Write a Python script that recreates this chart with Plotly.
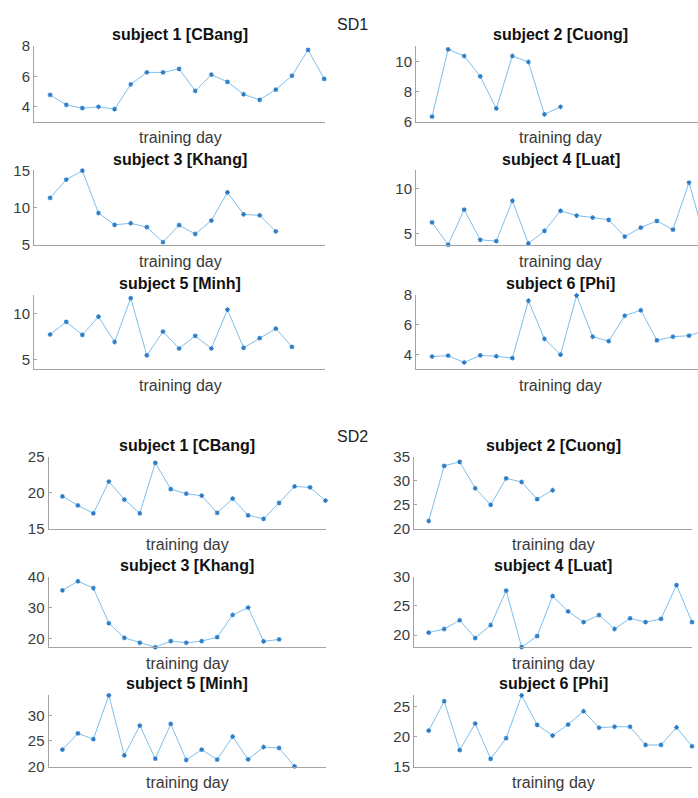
import plotly.graph_objects as go

W, H = 698, 798

subjects = ["subject 1 [CBang]", "subject 2 [Cuong]", "subject 3 [Khang]",
            "subject 4 [Luat]", "subject 5 [Minh]", "subject 6 [Phi]"]

# SD1 per subject (one value per training day)
sd1_cbang = [4.77, 4.11, 3.89, 3.98, 3.82, 5.47, 6.26, 6.26, 6.50, 5.03, 6.11, 5.63, 4.81, 4.44, 5.12, 6.04, 7.75, 5.83]
sd1_cuong = [6.33, 10.79, 10.35, 9.00, 6.87, 10.35, 9.95, 6.48, 6.98]
sd1_khang = [11.32, 13.78, 14.97, 9.28, 7.69, 7.91, 7.38, 5.36, 7.65, 6.46, 8.27, 12.06, 9.10, 8.97, 6.81]
sd1_luat = [6.24, 3.76, 7.66, 4.31, 4.16, 8.64, 3.90, 5.30, 7.52, 7.00, 6.78, 6.53, 4.67, 5.66, 6.42, 5.44, 10.66, 4.30]
sd1_minh = [7.73, 9.09, 7.69, 9.65, 6.92, 11.64, 5.48, 8.04, 6.22, 7.58, 6.22, 10.41, 6.29, 7.34, 8.36, 6.40]
sd1_phi = [3.85, 3.91, 3.45, 3.93, 3.87, 3.74, 7.60, 5.03, 3.98, 7.95, 5.18, 4.88, 6.59, 6.96, 4.94, 5.18, 5.25, 5.60]

# SD2 per subject
sd2_cbang = [19.50, 18.23, 17.14, 21.55, 19.05, 17.14, 24.15, 20.50, 19.86, 19.59, 17.19, 19.18, 16.86, 16.37, 18.60, 20.87, 20.74, 18.91]
sd2_cuong = [21.6, 33.1, 33.95, 28.43, 24.97, 30.5, 29.73, 26.15, 28.01]
sd2_khang = [35.58, 38.5, 36.3, 24.93, 20.2, 18.6, 17.16, 19.15, 18.6, 19.15, 20.4, 27.6, 30.0, 19.05, 19.68]
sd2_luat = [20.43, 21.05, 22.55, 19.5, 21.7, 27.6, 17.95, 19.83, 26.67, 24.05, 22.22, 23.43, 21.05, 22.88, 22.22, 22.77, 28.55, 22.22]
sd2_minh = [23.31, 26.5, 25.35, 33.95, 22.17, 28.03, 21.53, 28.35, 21.28, 23.31, 21.34, 25.87, 21.4, 23.82, 23.63, 20.02]
sd2_phi = [20.97, 25.88, 17.73, 22.16, 16.27, 19.72, 26.84, 21.95, 20.16, 21.99, 24.21, 21.46, 21.62, 21.62, 18.59, 18.59, 21.51, 18.38]

sd1_series = [sd1_cbang, sd1_cuong, sd1_khang, sd1_luat, sd1_minh, sd1_phi]
sd2_series = [sd2_cbang, sd2_cuong, sd2_khang, sd2_luat, sd2_minh, sd2_phi]

sd1_yranges = [[3, 8], [6, 11], [5, 15], [3.75, 12], [4, 12], [3, 8]]
sd1_yticks = [[4, 6, 8], [6, 8, 10], [5, 10, 15], [5, 10], [5, 10], [4, 6, 8]]
sd2_yranges = [[15, 25], [20, 35], [17.1, 40], [17.9, 30], [20, 34], [15, 26.9]]
sd2_yticks = [[15, 20, 25], [20, 25, 30, 35], [20, 30, 40], [20, 25, 30], [20, 25, 30], [15, 20, 25]]

# panel geometry in pixels: (left, right, top, bottom) and x-range
sd1_cols = [(34, 325, [0.0, 18.05]), (416, 698, [0.0, 17.56])]
sd1_rows = [(38, 115), (165, 241), (292, 368)]
sd2_cols = [(48.5, 325.5, [0.1, 18.0]), (414, 692, [0.05, 18.0])]
sd2_rows = [(457.5, 531), (580, 652.3), (701, 774)]

# centre of each panel for titles (right column of SD1 runs past the page edge)
sd1_centers = [180, 560.5]
sd2_centers = [187, 553]

LINE_C = "#6fb8ea"
MARK_C = "#2a7cc6"
AXIS_C = "#a3a3a3"
TEXT_C = "#3a3a3a"
FONT = "Liberation Sans, Arial, sans-serif"

fig = go.Figure()
annotations = []


def px_x(p):
    return p / W


def px_y(p):
    return 1 - p / H


def add_group(series, yranges, yticks, cols, rows, centers, start_idx):
    for i, vals in enumerate(series):
        r, c = divmod(i, 2)
        left, right, xr = cols[c]
        top, bottom = rows[r]
        n = start_idx + i
        xa = "xaxis" if n == 1 else f"xaxis{n}"
        ya = "yaxis" if n == 1 else f"yaxis{n}"
        xref = "x" if n == 1 else f"x{n}"
        yref = "y" if n == 1 else f"y{n}"
        days = list(range(1, len(vals) + 1))
        fig.add_trace(go.Scatter(
            x=days, y=vals, mode="lines+markers", xaxis=xref, yaxis=yref,
            line=dict(color=LINE_C, width=0.9),
            marker=dict(symbol="asterisk-open", size=4, color=MARK_C,
                        line=dict(color=MARK_C, width=1.1)),
            cliponaxis=False, showlegend=False, hoverinfo="skip"))
        fig.layout[xa] = dict(
            domain=[px_x(left), min(px_x(right), 1.0)], range=xr,
            anchor=yref, showline=True, linecolor=AXIS_C, linewidth=1,
            showgrid=False, zeroline=False, showticklabels=False, ticks="")
        fig.layout[ya] = dict(
            domain=[px_y(bottom), px_y(top)], range=yranges[i],
            anchor=xref, showline=True, linecolor=AXIS_C, linewidth=1,
            showgrid=False, zeroline=False, tickvals=yticks[i],
            ticks="inside", ticklen=3, tickcolor=AXIS_C,
            tickfont=dict(family=FONT, size=15, color=TEXT_C))
        annotations.append(dict(
            text=f"<b>{subjects[i]}</b>", x=px_x(centers[c]), y=px_y(top - 11.5),
            xref="paper", yref="paper", showarrow=False, xanchor="center", yanchor="middle",
            font=dict(family=FONT, size=16, color="#111111")))
        annotations.append(dict(
            text="training day", x=px_x(centers[c]), y=px_y(bottom + 16.5),
            xref="paper", yref="paper", showarrow=False, xanchor="center", yanchor="middle",
            font=dict(family=FONT, size=16, color=TEXT_C)))


add_group(sd1_series, sd1_yranges, sd1_yticks, sd1_cols, sd1_rows, sd1_centers, 1)
add_group(sd2_series, sd2_yranges, sd2_yticks, sd2_cols, sd2_rows, sd2_centers, 7)

for label, yc in [("SD1", 16), ("SD2", 437)]:
    annotations.append(dict(
        text=label, x=px_x(352), y=px_y(yc), xref="paper", yref="paper",
        showarrow=False, xanchor="center", yanchor="middle",
        font=dict(family=FONT, size=16, color="#222222")))

fig.update_layout(
    width=W, height=H, margin=dict(l=0, r=0, t=0, b=0),
    paper_bgcolor="white", plot_bgcolor="white",
    annotations=annotations)

fig.write_html("out.html")
